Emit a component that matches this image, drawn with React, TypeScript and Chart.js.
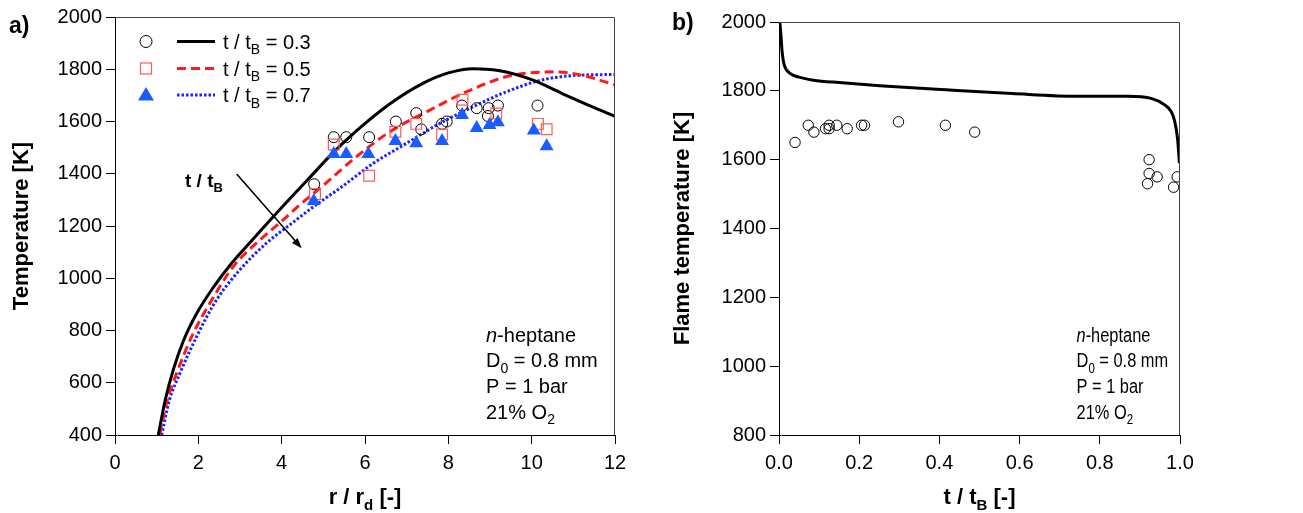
import React, { useEffect, useRef } from "react";
import { Chart, registerables } from "chart.js";

Chart.register(...registerables);

const FONT = '"Liberation Sans", Arial, Helvetica, sans-serif';

// ---------- Panel a) : temperature profiles vs r / r_d ----------
const rLine03 = [1.04, 1.2, 1.4, 1.64, 1.96, 2.36, 2.76, 3.24, 3.72, 4.2, 4.7, 5.2, 5.8, 6.6, 7.4, 8.0, 8.6, 9.2, 10.0, 10.8, 11.4, 12];
const tLine03 = [400, 530, 650, 760, 865, 965, 1050, 1137, 1222, 1305, 1390, 1475, 1565, 1668, 1747, 1786, 1802, 1795, 1760, 1702, 1660, 1620];

const rLine05 = [1.07, 1.25, 1.48, 1.88, 2.28, 2.84, 3.48, 4.04, 4.44, 4.92, 5.8, 6.6, 7.56, 8.36, 9.4, 10.1, 10.6, 11.24, 12];
const tLine05 = [400, 530, 637, 790, 905, 1045, 1147, 1224, 1282, 1345, 1466, 1561, 1644, 1708, 1772, 1788, 1790, 1776, 1740];

const rLine07 = [1.12, 1.3, 1.56, 1.96, 2.44, 3.0, 3.64, 4.2, 4.8, 5.4, 6.2, 7.0, 7.8, 8.6, 9.4, 10.2, 11.0, 12];
const tLine07 = [400, 530, 637, 777, 918, 1033, 1135, 1205, 1278, 1345, 1440, 1517, 1593, 1657, 1714, 1757, 1776, 1780];

const rExp03 = [4.78, 5.25, 5.55, 6.1, 6.74, 7.23, 7.35, 7.85, 7.96, 8.33, 8.68, 8.97, 8.95, 9.19, 10.14];
const tExp03 = [1360, 1540, 1540, 1540, 1600, 1632, 1570, 1591, 1600, 1661, 1651, 1651, 1621, 1661, 1661];

const rExp05 = [4.8, 5.25, 6.1, 6.73, 7.23, 7.85, 8.34, 9.15, 10.15, 10.36];
const tExp05 = [1322, 1512, 1392, 1561, 1591, 1550, 1683, 1631, 1591, 1570];

const rExp07 = [4.77, 5.25, 5.55, 6.08, 6.73, 7.23, 7.85, 8.33, 8.68, 8.99, 9.19, 10.05, 10.36];
const tExp07 = [1296, 1476, 1476, 1476, 1525, 1517, 1525, 1625, 1575, 1587, 1597, 1566, 1505];

const legendLabels = ["0.3", "0.5", "0.7"];

// ---------- Panel b) : flame temperature vs t / t_B ----------
const tbLine = [0.002, 0.005, 0.0074, 0.011, 0.016, 0.025, 0.036, 0.06, 0.086, 0.15, 0.251, 0.416, 0.581, 0.747, 0.87, 0.928, 0.961, 0.978, 0.986, 0.994, 0.9985];
const tfLine = [2000, 1960, 1918, 1885, 1866, 1853, 1845, 1837, 1831, 1824, 1815, 1803, 1792, 1784, 1784, 1778, 1760, 1740, 1715, 1660, 1590];

const tbExp = [0.04, 0.073, 0.087, 0.116, 0.125, 0.125, 0.144, 0.17, 0.206, 0.213, 0.298, 0.415, 0.488, 0.923, 0.923, 0.919, 0.943, 0.984, 0.993];
const tfExp = [1650, 1700, 1680, 1690, 1690, 1700, 1700, 1690, 1700, 1700, 1710, 1700, 1680, 1600, 1560, 1530, 1550, 1520, 1550];

type Part = { t: string; sub?: boolean; it?: boolean };

const zip = (xs: number[], ys: number[]) => xs.map((x, i) => ({ x, y: ys[i] }));

function drawRich(
  ctx: CanvasRenderingContext2D,
  parts: Part[],
  x: number,
  y: number,
  size: number,
  bold: boolean,
  align: "left" | "center" = "left",
  sx = 1
) {
  const fontFor = (p: Part) =>
    `${p.it ? "italic " : ""}${bold ? "bold " : ""}${p.sub ? Math.round(size * 0.68) : size}px ${FONT}`;
  let total = 0;
  for (const p of parts) {
    ctx.font = fontFor(p);
    total += ctx.measureText(p.t).width;
  }
  ctx.save();
  ctx.translate(x, y);
  ctx.scale(sx, 1);
  ctx.textAlign = "left";
  ctx.textBaseline = "alphabetic";
  ctx.fillStyle = "#000";
  let cx = align === "center" ? -total / 2 : 0;
  for (const p of parts) {
    ctx.font = fontFor(p);
    ctx.fillText(p.t, cx, p.sub ? size * 0.28 : 0);
    cx += ctx.measureText(p.t).width;
  }
  ctx.restore();
}

function drawRotated(ctx: CanvasRenderingContext2D, text: string, cx: number, cy: number, size: number) {
  ctx.save();
  ctx.translate(cx, cy);
  ctx.rotate(-Math.PI / 2);
  ctx.font = `bold ${size}px ${FONT}`;
  ctx.fillStyle = "#000";
  ctx.textAlign = "center";
  ctx.textBaseline = "middle";
  ctx.fillText(text, 0, 0);
  ctx.restore();
}

function drawFrame(chart: any) {
  const { ctx, chartArea: ca } = chart;
  ctx.save();
  ctx.strokeStyle = "#444";
  ctx.lineWidth = 1;
  ctx.beginPath();
  ctx.moveTo(ca.left, ca.top + 0.5);
  ctx.lineTo(ca.right - 0.5, ca.top + 0.5);
  ctx.lineTo(ca.right - 0.5, ca.bottom);
  ctx.stroke();
  ctx.restore();
}

function drawInfo(ctx: CanvasRenderingContext2D, x: number, y0: number, sx: number) {
  const lines: Part[][] = [
    [{ t: "n", it: true }, { t: "-heptane" }],
    [{ t: "D" }, { t: "0", sub: true }, { t: " = 0.8 mm" }],
    [{ t: "P = 1 bar" }],
    [{ t: "21% O" }, { t: "2", sub: true }],
  ];
  lines.forEach((l, i) => drawRich(ctx, l, x, y0 + i * 25.7, 20, false, "left", sx));
}

const decorA = {
  id: "decorA",
  afterDraw(chart: any) {
    const { ctx, chartArea: ca, scales } = chart;
    drawFrame(chart);
    ctx.save();
    ctx.font = `bold 23px ${FONT}`;
    ctx.fillStyle = "#000";
    ctx.textBaseline = "alphabetic";
    ctx.fillText("a)", 9, 33);
    ctx.restore();
    drawRotated(ctx, "Temperature [K]", 22, (ca.top + ca.bottom) / 2, 22);
    drawRich(ctx, [{ t: "r / r" }, { t: "d", sub: true }, { t: " [-]" }], (ca.left + ca.right) / 2, 504, 22, true, "center");
    // legend
    const lx = 146;
    const rows = [41.5, 68.5, 95];
    ctx.save();
    ctx.strokeStyle = "#000";
    ctx.lineWidth = 1;
    ctx.beginPath();
    ctx.arc(lx, rows[0], 6, 0, Math.PI * 2);
    ctx.stroke();
    ctx.strokeStyle = "#ff5a5a";
    ctx.lineWidth = 1.2;
    ctx.strokeRect(lx - 5.5, rows[1] - 5.5, 11, 11);
    ctx.fillStyle = "#1a5cff";
    ctx.beginPath();
    ctx.moveTo(lx, rows[2] - 8);
    ctx.lineTo(lx + 8, rows[2] + 5.5);
    ctx.lineTo(lx - 8, rows[2] + 5.5);
    ctx.closePath();
    ctx.fill();
    const styles = [
      { c: "#000", d: [] as number[] },
      { c: "#ff1a1a", d: [9, 5] },
      { c: "#1f1fff", d: [2.5, 2] },
    ];
    styles.forEach((s, i) => {
      ctx.strokeStyle = s.c;
      ctx.lineWidth = 3;
      ctx.setLineDash(s.d);
      ctx.beginPath();
      ctx.moveTo(177, rows[i]);
      ctx.lineTo(215, rows[i]);
      ctx.stroke();
    });
    ctx.setLineDash([]);
    ctx.restore();
    legendLabels.forEach((v, i) =>
      drawRich(ctx, [{ t: "t / t" }, { t: "B", sub: true }, { t: " = " + v }], 223, rows[i] + 7, 20, false)
    );
    // arrow with label
    const x1 = scales.x.getPixelForValue(2.92);
    const y1 = scales.y.getPixelForValue(1399);
    const x2 = scales.x.getPixelForValue(4.48);
    const y2 = scales.y.getPixelForValue(1115);
    ctx.save();
    ctx.strokeStyle = "#000";
    ctx.fillStyle = "#000";
    ctx.lineWidth = 1.6;
    const ang = Math.atan2(y2 - y1, x2 - x1);
    const hl = 11;
    ctx.beginPath();
    ctx.moveTo(x1, y1);
    ctx.lineTo(x2 - Math.cos(ang) * hl * 0.8, y2 - Math.sin(ang) * hl * 0.8);
    ctx.stroke();
    ctx.beginPath();
    ctx.moveTo(x2, y2);
    ctx.lineTo(x2 - hl * Math.cos(ang - 0.35), y2 - hl * Math.sin(ang - 0.35));
    ctx.lineTo(x2 - hl * Math.cos(ang + 0.35), y2 - hl * Math.sin(ang + 0.35));
    ctx.closePath();
    ctx.fill();
    ctx.restore();
    drawRich(ctx, [{ t: "t / t" }, { t: "B", sub: true }], 185, 187, 19, true);
    drawInfo(ctx, 486, 341.7, 1);
  },
};

const decorB = {
  id: "decorB",
  afterDraw(chart: any) {
    const { ctx, chartArea: ca } = chart;
    drawFrame(chart);
    ctx.save();
    ctx.font = `bold 23px ${FONT}`;
    ctx.fillStyle = "#000";
    ctx.textBaseline = "alphabetic";
    ctx.fillText("b)", 22, 30);
    ctx.restore();
    drawRotated(ctx, "Flame temperature [K]", 33, (ca.top + ca.bottom) / 2, 22);
    drawRich(ctx, [{ t: "t / t" }, { t: "B", sub: true }, { t: " [-]" }], (ca.left + ca.right) / 2, 504, 22, true, "center");
    drawInfo(ctx, ca.left + 0.742 * (ca.right - ca.left), 341.7, 0.82);
  },
};

const tickFont = { family: FONT, size: 20 };

function axisX(min: number, max: number, step: number, h: number, fmt: (v: number) => string) {
  return {
    type: "linear" as const,
    min,
    max,
    afterFit: (s: any) => {
      s.height = h;
    },
    ticks: {
      stepSize: step,
      font: tickFont,
      color: "#000",
      padding: 7,
      maxRotation: 0,
      autoSkip: false,
      callback: (v: any) => fmt(Number(v)),
    },
    grid: { drawOnChartArea: false, drawTicks: true, tickLength: 9, color: "#000", lineWidth: 1 },
    border: { display: true, color: "#000", width: 1 },
  };
}

function axisY(min: number, max: number, step: number, w: number) {
  return {
    type: "linear" as const,
    min,
    max,
    afterFit: (s: any) => {
      s.width = w;
    },
    ticks: {
      stepSize: step,
      font: tickFont,
      color: "#000",
      padding: 4,
      autoSkip: false,
      callback: (v: any) => String(Number(v)),
    },
    grid: { drawOnChartArea: false, drawTicks: true, tickLength: 9, color: "#000", lineWidth: 1 },
    border: { display: true, color: "#000", width: 1 },
  };
}

const lineDs = (xs: number[], ys: number[], color: string, dash: number[]) => ({
  data: zip(xs, ys),
  showLine: true,
  borderColor: color,
  borderWidth: 3,
  borderDash: dash,
  pointRadius: 0,
  cubicInterpolationMode: "monotone" as const,
  fill: false,
});

export default function App() {
  const refA = useRef<HTMLCanvasElement>(null);
  const refB = useRef<HTMLCanvasElement>(null);

  useEffect(() => {
    const common = {
      responsive: false,
      maintainAspectRatio: false,
      animation: false as const,
      events: [] as any[],
      plugins: { legend: { display: false }, tooltip: { enabled: false }, title: { display: false } },
    };
    const chartA = new Chart(refA.current!, {
      type: "scatter",
      data: {
        datasets: [
          {
            data: zip(rExp07, tExp07),
            pointStyle: "triangle",
            pointRadius: 8,
            pointBackgroundColor: "#1a5cff",
            pointBorderColor: "#1a5cff",
            pointBorderWidth: 0,
            showLine: false,
          },
          {
            data: zip(rExp05, tExp05),
            pointStyle: "rect",
            pointRadius: 7.6,
            pointBackgroundColor: "rgba(255,255,255,0)",
            pointBorderColor: "#ff5a5a",
            pointBorderWidth: 1.2,
            showLine: false,
          },
          {
            data: zip(rExp03, tExp03),
            pointStyle: "circle",
            pointRadius: 5.5,
            pointBackgroundColor: "rgba(255,255,255,0)",
            pointBorderColor: "#000",
            pointBorderWidth: 1,
            showLine: false,
          },
          lineDs(rLine03, tLine03, "#000", []),
          lineDs(rLine05, tLine05, "#ff1a1a", [9, 5]),
          lineDs(rLine07, tLine07, "#1f1fff", [2.5, 2]),
        ],
      },
      options: {
        ...common,
        layout: { padding: { left: 0, top: 17, right: 35, bottom: 0 } },
        scales: {
          x: axisX(0, 12, 2, 78, (v) => String(v)),
          y: axisY(400, 2000, 200, 115),
        },
      } as any,
      plugins: [decorA],
    });

    const chartB = new Chart(refB.current!, {
      type: "scatter",
      data: {
        datasets: [
          {
            data: zip(tbExp, tfExp),
            pointStyle: "circle",
            pointRadius: 5.2,
            pointBackgroundColor: "rgba(255,255,255,0)",
            pointBorderColor: "#000",
            pointBorderWidth: 1,
            showLine: false,
          },
          lineDs(tbLine, tfLine, "#000", []),
        ],
      },
      options: {
        ...common,
        layout: { padding: { left: 0, top: 22, right: 123, bottom: 0 } },
        scales: {
          x: axisX(0, 1, 0.2, 78, (v) => v.toFixed(1)),
          y: axisY(800, 2000, 200, 129),
        },
      } as any,
      plugins: [decorB],
    });

    return () => {
      chartA.destroy();
      chartB.destroy();
    };
  }, []);

  return (
    <div style={{ position: "absolute", left: 0, top: 0, width: 1303, height: 513, background: "#fff" }}>
      <canvas ref={refA} width={650} height={513} style={{ position: "absolute", left: 0, top: 0, width: 650, height: 513 }} />
      <canvas ref={refB} width={653} height={513} style={{ position: "absolute", left: 650, top: 0, width: 653, height: 513 }} />
    </div>
  );
}
